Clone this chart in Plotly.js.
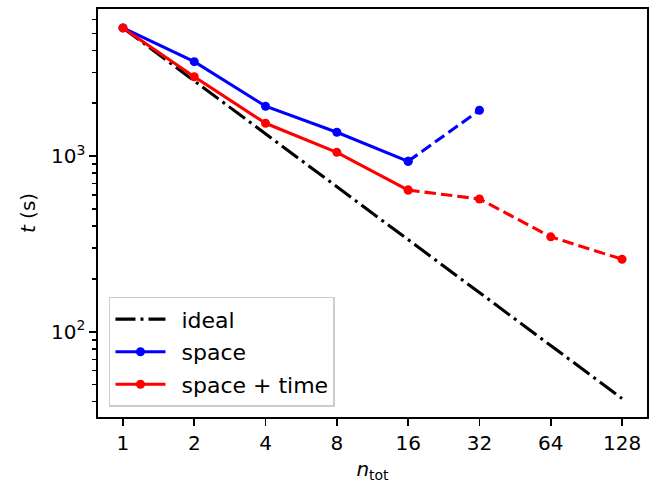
<!DOCTYPE html>
<html>
<head>
<meta charset="utf-8">
<script src="https://cdn.plot.ly/plotly-3.0.1.min.js"></script>
<style>html,body{margin:0;padding:0;background:#fff;}#chart{width:649px;height:485px;}</style>
</head>
<body>
<div id="chart"></div>
<script>
// Data
const nTot = [1, 2, 4, 8, 16, 32, 64, 128];
const tSerial = 5350;
const idealT = nTot.map(n => tSerial / n);
const spaceN = [1, 2, 4, 8, 16];
const spaceT = [5350, 3440, 1920, 1365, 933];
const spaceDashN = [16, 32];
const spaceDashT = [933, 1820];
const stN = [1, 2, 4, 8, 16];
const stT = [5350, 2825, 1535, 1049, 640];
const stDashN = [16, 32, 64, 128];
const stDashT = [640, 570, 347, 259];
const seriesNames = ['ideal', 'space', 'space + time'];
const xTickVals = [1, 2, 4, 8, 16, 32, 64, 128];
const xTickText = ['1', '2', '4', '8', '16', '32', '64', '128'];
const yTickVals = [100, 1000];
const yTickText = ['10<sup>2</sup>', '10<sup>3</sup>'];
const yMinorVals = [40, 50, 60, 70, 80, 90, 200, 300, 400, 500, 600, 700, 800, 900, 2000, 3000, 4000, 5000, 6000];

const LW = 3.1;
const MS = 9;
const FONT = 'DejaVu Sans, sans-serif';
const pad = s => '\u2002' + s;

const traces = [
  {x: nTot, y: idealT, mode: 'lines', name: pad(seriesNames[0]), legendgroup: 'a',
   line: {color: 'black', width: LW, dash: '20px,5px,3px,5px'}},
  {x: spaceN, y: spaceT, mode: 'lines+markers', name: pad(seriesNames[1]), legendgroup: 'b',
   line: {color: '#0000ff', width: LW}, marker: {color: '#0000ff', size: MS}},
  {x: spaceDashN, y: spaceDashT, mode: 'lines+markers', name: seriesNames[1], showlegend: false, legendgroup: 'b',
   line: {color: '#0000ff', width: LW, dash: '11.5px,5px'}, marker: {color: '#0000ff', size: MS}},
  {x: stN, y: stT, mode: 'lines+markers', name: pad(seriesNames[2]), legendgroup: 'c',
   line: {color: '#ff0000', width: LW}, marker: {color: '#ff0000', size: MS}},
  {x: stDashN, y: stDashT, mode: 'lines+markers', name: seriesNames[2], showlegend: false, legendgroup: 'c',
   line: {color: '#ff0000', width: LW, dash: '11.5px,5px'}, marker: {color: '#ff0000', size: MS}}
];

const layout = {
  width: 649, height: 485,
  margin: {l: 98, r: 2, t: 9, b: 68},
  paper_bgcolor: 'white', plot_bgcolor: 'white',
  font: {family: FONT, size: 20, color: 'black'},
  showlegend: true,
  legend: {x: 0.02, y: 0.025, xanchor: 'left', yanchor: 'bottom',
    bgcolor: 'rgba(255,255,255,0.8)', bordercolor: '#cccccc', borderwidth: 1.5,
    font: {family: FONT, size: 22, color: 'black'}, traceorder: 'grouped', tracegroupgap: 1,
    itemwidth: 50},
  xaxis: {type: 'log', range: [Math.log10(Math.pow(2, -0.35)), Math.log10(Math.pow(2, 7.35))],
    tickmode: 'array', tickvals: xTickVals, ticktext: xTickText,
    ticks: 'outside', ticklen: 7, tickwidth: 1.6, tickcolor: 'black',
    showline: true, linecolor: 'black', linewidth: 1.6, mirror: true,
    showgrid: false, zeroline: false,
    title: {text: '<i>n</i><sub>tot</sub>', font: {family: FONT, size: 20}, standoff: 8}},
  yaxis: {type: 'log', range: [1.516, 3.836],
    tickmode: 'array', tickvals: yTickVals, ticktext: yTickText,
    ticks: 'outside', ticklen: 7, tickwidth: 1.6, tickcolor: 'black',
    minor: {tickmode: 'array', tickvals: yMinorVals, ticks: 'outside', ticklen: 4, tickwidth: 1.2, tickcolor: 'black', showgrid: false},
    showline: true, linecolor: 'black', linewidth: 1.6, mirror: true,
    showgrid: false, zeroline: false,
    title: {text: '<i>t</i> (s)', font: {family: FONT, size: 20}, standoff: 10}}
};

Plotly.newPlot('chart', traces, layout, {displayModeBar: false, staticPlot: true});
</script>
</body>
</html>
